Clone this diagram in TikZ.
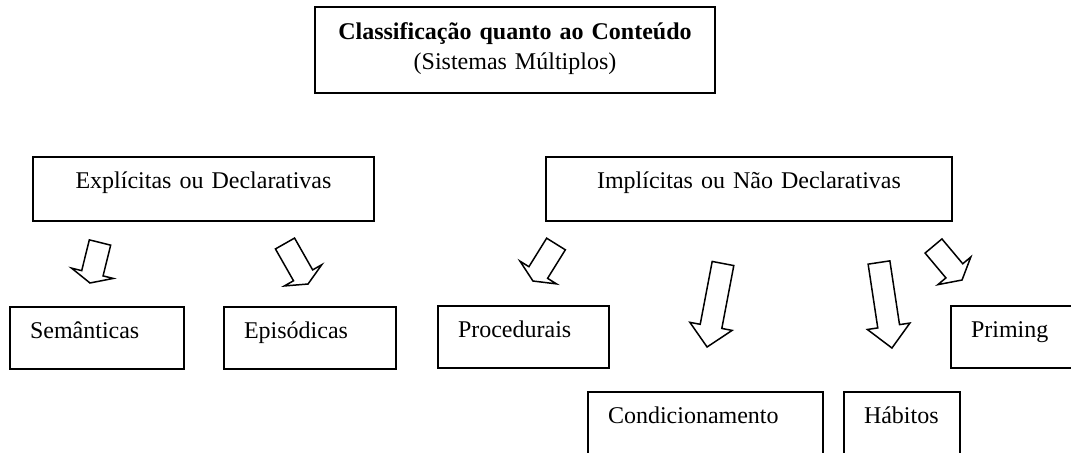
\documentclass[tikz,border=0pt]{standalone}
\usepackage{fontspec}
\setmainfont{Liberation Serif}
\tikzset{
  caixa/.style = {
    draw, line width=1pt, anchor=north west,
    inner xsep=10pt, inner ysep=0pt, align=left,
    font=\fontsize{12pt}{15pt}\selectfont
  },
  alta/.style  = {text height=15.5pt, text depth=16.5pt, align=center},
  baixa/.style = {text height=15.5pt, text depth=15.5pt},
  seta/.style  = {draw, line width=0.75pt, line join=miter}
}
% block arrow: tail point, angle, length, head length
\newcommand{\setabloco}[4]{%
  \draw[seta, shift={#1}, rotate=#2]
    (0,-11) -- ({#3-#4},-11) -- ({#3-#4},-21.5) -- (#3,0)
    -- ({#3-#4},21.5) -- ({#3-#4},11) -- (0,11) -- cycle;}

\begin{document}
\begin{tikzpicture}[x=0.5pt,y=0.5pt]
  \useasboundingbox (0,0) rectangle (1071,452);
  \clip (0,0) rectangle (1071,452);
  % title
  \node[caixa, align=center, text width=180pt, text height=16pt, text depth=27pt]
    (titulo) at (314,446) {\textbf{Classificação quanto ao Conteúdo}\\(Sistemas Múltiplos)};
  % first level
  \node[caixa, alta, text width=150.5pt] (explicitas) at (32,296) {Explícitas ou Declarativas};
  \node[caixa, alta, text width=183pt]   (implicitas) at (545,296) {Implícitas ou Não Declarativas};
  % second level
  \node[caixa, baixa, text width=67pt]   (semanticas)  at (9,146)   {Semânticas};
  \node[caixa, baixa, text width=66pt]   (episodicas)  at (223,146) {Episódicas};
  \node[caixa, baixa, text width=65.5pt] (procedurais) at (437,147) {Procedurais};
  \node[caixa, baixa, text width=66pt]   (priming)     at (950,147) {Priming};
  \node[caixa, baixa, text width=97.5pt, text depth=19.5pt] (condicionamento) at (587,61) {Condicionamento};
  \node[caixa, baixa, text width=38pt, text depth=19.5pt]   (habitos)         at (843,61) {Hábitos};
  % arrows
  \setabloco{(100,209.5)}{-103.9}{41.7}{10}
  \setabloco{(285,208.5)}{-60.4}{46.6}{10}
  \setabloco{(556,208)}{-121.9}{43.6}{10}
  \setabloco{(723,188.5)}{-100.8}{85}{21}
  \setabloco{(879,189.5)}{-81.4}{86.5}{22}
  \setabloco{(933.5,206)}{-50}{44.4}{12}
\end{tikzpicture}
\end{document}
